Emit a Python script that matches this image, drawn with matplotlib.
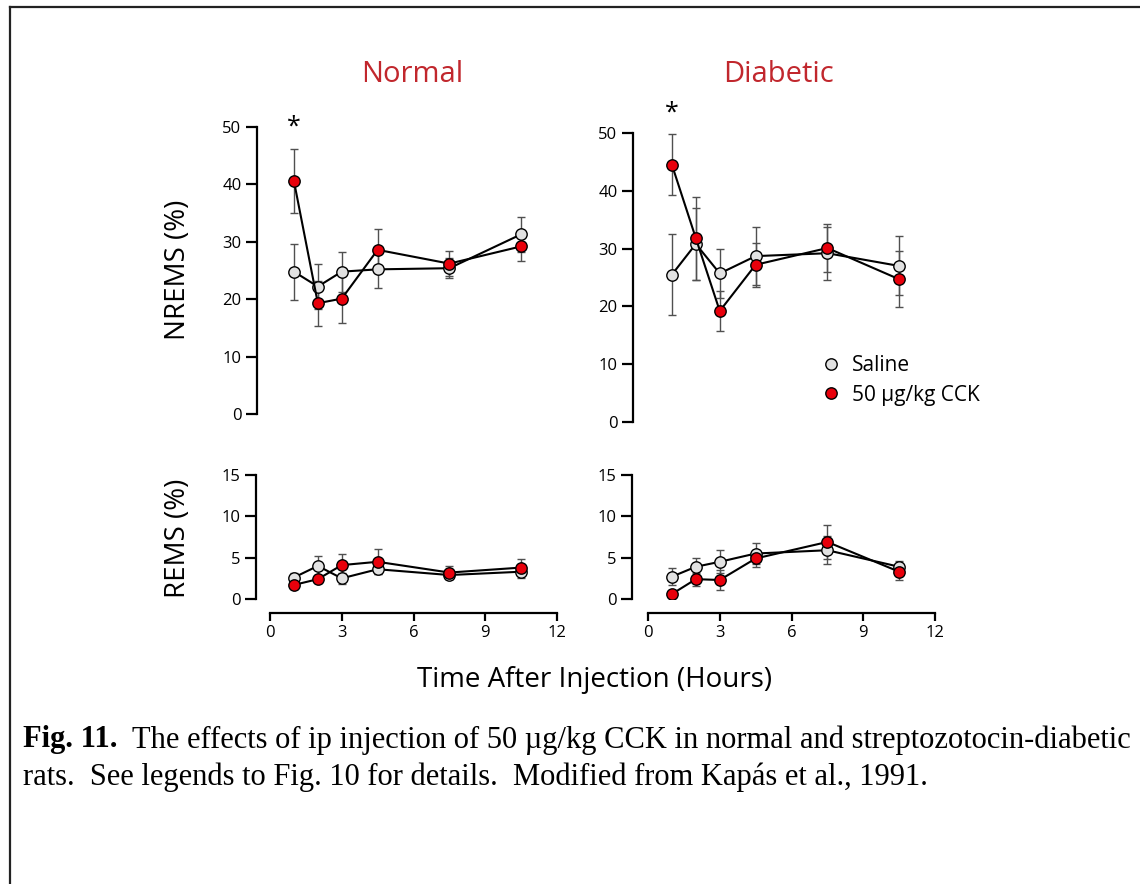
import numpy as np
import matplotlib
matplotlib.use('Agg')
import matplotlib.pyplot as plt
from matplotlib.lines import Line2D

plt.rcParams['font.family'] = ['Open Sans', 'DejaVu Sans']

# sampling times (hours after injection)
hours = [1, 2, 3, 4.5, 7.5, 10.5]

# NREMS (%) -- normal rats
nrem_norm_sal = [24.8, 22.2, 24.8, 25.2, 25.4, 31.3]
nrem_norm_sal_err = [4.9, 3.9, 3.5, 3.2, 1.7, 3.1]
nrem_norm_cck = [40.6, 19.3, 20.1, 28.6, 26.2, 29.2]
nrem_norm_cck_err = [5.6, 3.9, 4.2, 3.6, 2.2, 2.5]

# NREMS (%) -- diabetic rats
nrem_diab_sal = [25.5, 30.8, 25.7, 28.7, 29.2, 27.0]
nrem_diab_sal_err = [7.0, 6.2, 4.3, 5.0, 4.6, 5.1]
nrem_diab_cck = [44.5, 31.8, 19.2, 27.2, 30.1, 24.7]
nrem_diab_cck_err = [5.3, 7.2, 3.5, 3.8, 4.1, 4.8]

# REMS (%) -- normal rats
rem_norm_sal = [2.6, 4.0, 2.5, 3.6, 2.9, 3.3]
rem_norm_sal_err = [0.6, 1.2, 0.7, 0.6, 0.5, 0.7]
rem_norm_cck = [1.7, 2.4, 4.1, 4.5, 3.2, 3.8]
rem_norm_cck_err = [0.5, 0.5, 1.3, 1.5, 0.8, 1.0]

# REMS (%) -- diabetic rats
rem_diab_sal = [2.7, 3.9, 4.5, 5.5, 5.9, 3.9]
rem_diab_sal_err = [1.0, 1.0, 1.4, 1.3, 1.7, 0.7]
rem_diab_cck = [0.6, 2.4, 2.3, 4.9, 6.9, 3.3]
rem_diab_cck_err = [0.4, 0.8, 1.2, 1.0, 2.1, 1.0]

W, H = 1140, 884
fig = plt.figure(figsize=(W/100, H/100), dpi=100)

def px_axes(x0, x1, ytop, ybot):
    # axes rect from pixel coords
    return fig.add_axes([x0/W, 1-ybot/H, (x1-x0)/W, (ybot-ytop)/H])

sal_col = '#e2e2e2'
cck_col = '#e8000b'
ms = 8.2

def draw(ax, sal, sal_err, cck, cck_err, ymax, yticks, spine_off, show_x):
    for y, e, c, z in [(sal, sal_err, sal_col, 3), (cck, cck_err, cck_col, 4)]:
        ax.errorbar(hours, y, yerr=e, fmt='none', ecolor='#505050',
                    elinewidth=1.0, capsize=3, capthick=1.0, zorder=z-2)
        ax.plot(hours, y, '-', color='black', lw=1.5, zorder=z)
        ax.plot(hours, y, 'o', ms=ms, mfc=c, mec='black', mew=1.0, zorder=z+0.5)
    ax.set_xlim(0, 12)
    ax.set_ylim(0, ymax)
    ax.set_yticks(yticks)
    ax.spines['top'].set_visible(False)
    ax.spines['right'].set_visible(False)
    ax.spines['left'].set_position(('outward', spine_off))
    ax.spines['left'].set_bounds(0, ymax)
    ax.spines['left'].set_linewidth(1.6)
    ax.tick_params(axis='y', length=8, width=1.6, labelsize=12, pad=3)
    ax.patch.set_visible(False)
    if show_x:
        ax.spines['bottom'].set_position(('outward', 10))
        ax.spines['bottom'].set_linewidth(1.6)
        ax.set_xticks([0, 3, 6, 9, 12])
        ax.tick_params(axis='x', length=6, width=1.6, labelsize=12, pad=3)
    else:
        ax.spines['bottom'].set_visible(False)
        ax.set_xticks([])

ax1 = px_axes(270, 557, 127, 414)
draw(ax1, nrem_norm_sal, nrem_norm_sal_err, nrem_norm_cck, nrem_norm_cck_err,
     50, [0, 10, 20, 30, 40, 50], 9.5, False)
ax2 = px_axes(648, 935, 133, 422)
draw(ax2, nrem_diab_sal, nrem_diab_sal_err, nrem_diab_cck, nrem_diab_cck_err,
     50, [0, 10, 20, 30, 40, 50], 11, False)
ax3 = px_axes(270, 557, 475, 599)
draw(ax3, rem_norm_sal, rem_norm_sal_err, rem_norm_cck, rem_norm_cck_err,
     15, [0, 5, 10, 15], 10, True)
ax4 = px_axes(648, 935, 475, 599)
draw(ax4, rem_diab_sal, rem_diab_sal_err, rem_diab_cck, rem_diab_cck_err,
     15, [0, 5, 10, 15], 11.5, True)

# significance marks at the first hour
ax1.text(1, 50.0, '*', ha='center', va='center', fontsize=18, clip_on=False)
ax2.text(1, 53.5, '*', ha='center', va='center', fontsize=18, clip_on=False)

# panel titles and axis labels
title_col = '#c1272d'
fig.text(412/W, 1-75/H, 'Normal', ha='center', va='center', fontsize=21, color=title_col)
fig.text(778/W, 1-75/H, 'Diabetic', ha='center', va='center', fontsize=21, color=title_col)
fig.text(178/W, 1-270/H, 'NREMS (%)', ha='center', va='center', rotation=90, fontsize=20)
fig.text(178/W, 1-538/H, 'REMS (%)', ha='center', va='center', rotation=90, fontsize=20)
fig.text(595/W, 1-680/H, 'Time After Injection (Hours)', ha='center', va='center', fontsize=20)

# legend
handles = [Line2D([], [], ls='none', marker='o', ms=ms, mfc=sal_col, mec='black', mew=1.0),
           Line2D([], [], ls='none', marker='o', ms=ms, mfc=cck_col, mec='black', mew=1.0)]
fig.legend(handles, ['Saline', '50 µg/kg CCK'], loc='upper left',
           bbox_to_anchor=(811/W, 1-345/H), frameon=False, fontsize=15,
           handlelength=0.9, handletextpad=0.55, labelspacing=0.4, borderpad=0)

# caption: bold figure number, then the body set right after it
serif = ['Liberation Serif', 'DejaVu Serif']
cap_fs = 22
y1, y2 = 1-740/H, 1-777/H
tag = fig.text(23/W, y1, 'Fig. 11.', ha='left', va='center', fontsize=cap_fs,
               fontweight='bold', family=serif)
renderer = fig.canvas.get_renderer()
bb = tag.get_window_extent(renderer)
fig.text((bb.x1 + 14)/W, y1,
         'The effects of ip injection of 50 µg/kg CCK in normal and streptozotocin-diabetic',
         ha='left', va='center', fontsize=cap_fs, family=serif)
fig.text(23/W, y2,
         'rats.  See legends to Fig. 10 for details.  Modified from Kapás et al., 1991.',
         ha='left', va='center', fontsize=cap_fs, family=serif)

# outer frame (top and left edges)
fig.add_artist(Line2D([10/W, 1], [1-7/H, 1-7/H], color='#222222', lw=1.6))
fig.add_artist(Line2D([10/W, 10/W], [0, 1-7/H], color='#222222', lw=1.6))

fig.savefig('out.png', dpi=100)
